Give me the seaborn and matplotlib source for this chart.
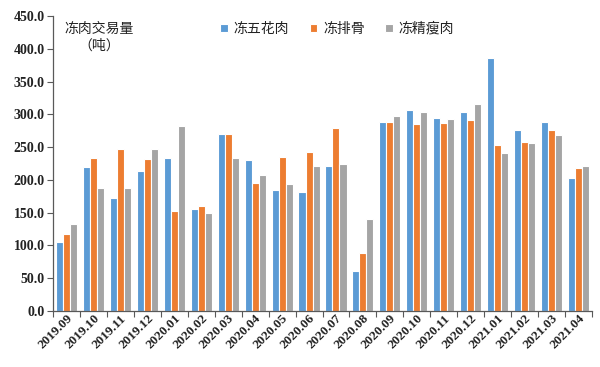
import matplotlib
matplotlib.use("Agg")
import matplotlib.pyplot as plt
import seaborn as sns
import pandas as pd
import numpy as np
from matplotlib.ticker import FixedLocator, FormatStrFormatter

months = ["2019.09", "2019.10", "2019.11", "2019.12", "2020.01", "2020.02", "2020.03",
          "2020.04", "2020.05", "2020.06", "2020.07", "2020.08", "2020.09", "2020.10",
          "2020.11", "2020.12", "2021.01", "2021.02", "2021.03", "2021.04"]
series_names = ["冻五花肉", "冻排骨", "冻精瘦肉"]
pork_belly = [106, 220, 172, 214, 233, 156, 270, 230, 185, 182, 222, 61, 289, 306, 294, 303, 386, 276, 289, 203]
spare_ribs = [118, 234, 247, 232, 152, 161, 270, 195, 235, 242, 279, 89, 289, 285, 287, 292, 253, 258, 277, 219]
lean_meat = [133, 187, 188, 247, 282, 149, 233, 208, 194, 222, 225, 140, 297, 304, 293, 316, 241, 257, 269, 221]
colors = ["#5B9BD5", "#ED7D31", "#A5A5A5"]

df = pd.DataFrame({
    "month": months * 3,
    "series": sum([[s] * len(months) for s in series_names], []),
    "value": pork_belly + spare_ribs + lean_meat,
})

sns.set_theme(style="white")
plt.rcParams["font.family"] = ["Liberation Serif", "Noto Sans CJK SC", "DejaVu Sans"]

fig = plt.figure(figsize=(6, 3.67), dpi=100)
ax = fig.add_axes([0.088, 0.1526, 0.899, 0.8034])

sns.barplot(data=df, x="month", y="value", hue="series", hue_order=series_names,
            palette=colors, width=0.78, edgecolor="white", linewidth=0.8,
            saturation=1, ax=ax, legend=True)

ax.set_ylim(0, 450)
ax.set_yticks(np.arange(0, 451, 50))
ax.yaxis.set_major_formatter(FormatStrFormatter("%.1f"))
ax.set_xlim(-0.5, len(months) - 0.5)
ax.set_xlabel("")
ax.set_ylabel("")

for s in ["top", "right"]:
    ax.spines[s].set_visible(False)
for s in ["left", "bottom"]:
    ax.spines[s].set_color("#595959")
    ax.spines[s].set_linewidth(0.9)

ax.tick_params(axis="y", which="major", left=True, length=4, width=0.8, color="#595959",
               labelsize=10, pad=2, labelcolor="#222222")
ax.tick_params(axis="x", which="major", bottom=False, length=0, labelsize=9.5, pad=1,
               labelcolor="#222222")
ax.xaxis.set_minor_locator(FixedLocator(np.arange(-0.5, len(months), 1.0)))
ax.tick_params(axis="x", which="minor", bottom=True, length=4, width=0.8, color="#595959")

for lab in ax.get_yticklabels():
    lab.set_fontweight("bold")
for lab in ax.get_xticklabels():
    lab.set_fontweight("bold")
    lab.set_rotation(45)
    lab.set_ha("right")
    lab.set_rotation_mode("anchor")

leg = ax.legend(loc="center", bbox_to_anchor=(0.562, 0.922), bbox_transform=fig.transFigure,
                ncol=3, frameon=False, handlelength=0.55, handleheight=0.55, handletextpad=0.4,
                columnspacing=1.5,
                prop={"family": ["Noto Sans CJK SC"], "size": 10})
for t in leg.get_texts():
    t.set_color("#222222")

fig.text(0.165, 0.922, "冻肉交易量", ha="center", va="center",
         family=["Noto Sans CJK SC"], fontsize=10, color="#222222")
fig.text(0.165, 0.875, "（吨）", ha="center", va="center",
         family=["Noto Sans CJK SC"], fontsize=10, color="#222222")

fig.savefig("out.png", dpi=100)
